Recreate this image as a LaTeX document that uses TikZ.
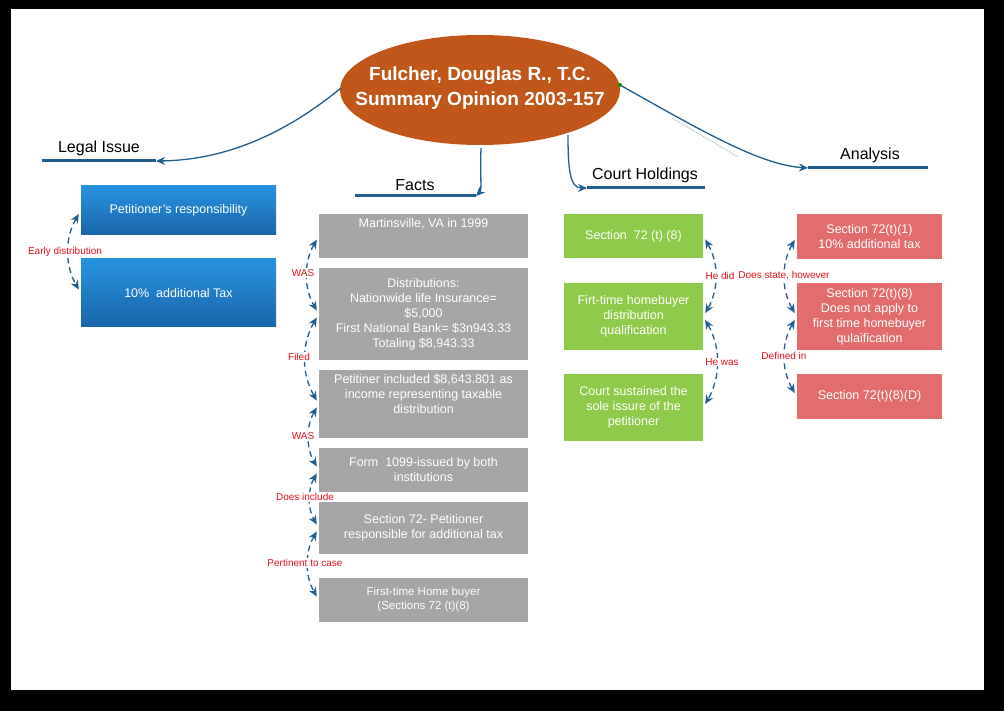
\documentclass[tikz,border=0pt]{standalone}
\usepackage{fontspec}
\setmainfont{Liberation Sans}
\usetikzlibrary{shapes.geometric,arrows.meta}
\definecolor{arr}{HTML}{1F5F8F}
\definecolor{orng}{HTML}{C0561A}
\definecolor{bluetop}{HTML}{2792DE}
\definecolor{bluebot}{HTML}{1A66AA}
\definecolor{gry}{HTML}{A6A6A6}
\definecolor{grn}{HTML}{8FCB4A}
\definecolor{rd}{HTML}{E36C6C}
\definecolor{lbl}{HTML}{E8101A}
\tikzset{
  box/.style={minimum width=#1, inner sep=2pt, text=white, align=center, font=\fontsize{12.5}{15}\selectfont},
  bluebox/.style={box=195pt, top color=bluetop, bottom color=bluebot, draw=none},
  graybox/.style={box=209pt, fill=gry},
  greenbox/.style={box=139pt, fill=grn},
  redbox/.style={box=145pt, fill=rd},
  hd/.style={font=\fontsize{16}{18}\selectfont, text=black},
  hline/.style={draw=arr, line width=3pt},
  marr/.style={draw=arr, line width=1.3pt, -{Stealth[length=9pt,width=8pt]}},
  dcon/.style={draw=arr, line width=1.3pt, dash pattern=on 6pt off 4pt, {Stealth[length=9pt,width=8pt]}-{Stealth[length=9pt,width=8pt]}, shorten <=4pt, shorten >=4pt},
  lab/.style={text=lbl, fill=white, inner sep=1pt, font=\fontsize{10}{11}\selectfont},
}
\begin{document}
\begin{tikzpicture}[x=1pt,y=-1pt]
\fill[black] (0,0) rectangle (1004,711);
\fill[white] (11,9) rectangle (984,690);
\useasboundingbox (0,0) rectangle (1004,711);

% central ellipse
\fill[orng] (480,90) ellipse [x radius=140, y radius=55];
\node[text=white, align=center, font=\bfseries\fontsize{19}{25}\selectfont] (c) at (480,88) {Fulcher, Douglas R., T.C.\\Summary Opinion 2003-157};

% headings
\node[hd] (hli) at (99,148) {Legal Issue};
\coordinate (li1) at (42,161); \coordinate (li2) at (156,161);
\draw[hline] (li1) -- (li2);
\node[hd] (hfa) at (415,185) {Facts};
\coordinate (fa1) at (355,196); \coordinate (fa2) at (476,196);
\draw[hline] (fa1) -- (fa2);
\node[hd] (hch) at (645,175) {Court Holdings};
\coordinate (ch1) at (587,188); \coordinate (ch2) at (705,188);
\draw[hline] (ch1) -- (ch2);
\node[hd] (han) at (870,155) {Analysis};
\coordinate (an1) at (808,168); \coordinate (an2) at (928,168);
\draw[hline] (an1) -- (an2);

% main arrows
\coordinate (cl) at (341,88);
\coordinate (cb1) at (481,148);
\coordinate (cb2) at (568,135);
\coordinate (cr) at (620,85);
\draw[marr] (cl) .. controls (290,130) and (230,160) .. (li2);
\draw[marr] (cb1) .. controls (480,175) and (482,190) .. (fa2);
\draw[marr] (cb2) .. controls (568,170) and (570,188) .. (ch1);
\draw[marr] (cr) .. controls (700,130) and (760,165) .. (an1);
\draw[densely dotted, line width=1pt, color=arr!40] (672,118) -- (738,157);
\fill[green!60!black] (cr) circle (2pt);

% legal issue boxes
\node[bluebox, minimum height=49pt] (b1) at (178.5,210.5) {Petitioner's responsibility};
\node[bluebox, minimum height=68pt] (b2) at (178.5,293) {10\%\ \ additional Tax};
\draw[dcon] (b1.west) to[bend right=30] (b2.west);
\node[lab] at (65,252) {Early distribution};

% facts boxes
\node[graybox, minimum height=44pt, anchor=north, text depth=26pt] (f1) at (423.5,214) {Martinsville, VA in 1999};
\node[graybox, minimum height=92pt] (f2) at (423.5,314) {Distributions:\\Nationwide life Insurance=\\\$5,000\\First National Bank= \$3n943.33\\Totaling \$8,943.33};
\node[graybox, minimum height=68pt] (f3) at (423.5,404) {Petitiner included \$8,643.801 as\\income representing taxable\\distribution\\[6pt]};
\node[graybox, minimum height=44pt] (f4) at (423.5,470) {Form\ \ 1099-issued by both\\institutions};
\node[graybox, minimum height=52pt] (f5) at (423.5,528) {Section 72- Petitioner\\responsible for additional tax};
\node[graybox, minimum height=44pt, font=\fontsize{11.5}{14}\selectfont] (f6) at (423.5,600) {First-time Home buyer\\(Sections 72 (t)(8)};
\draw[dcon] (f1.west) to[bend right=30] (f2.west);
\draw[dcon] (f2.west) to[bend right=30] (f3.west);
\draw[dcon] (f3.west) to[bend right=30] (f4.west);
\draw[dcon] (f4.west) to[bend right=30] (f5.west);
\draw[dcon] (f5.west) to[bend right=30] (f6.west);
\node[lab] at (303,273) {WAS};
\node[lab] at (299,357) {Filed};
\node[lab] at (303,436) {WAS};
\node[lab] at (305,497) {Does include};
\node[lab] at (305,563) {Pertinent to case};

% court holdings
\node[greenbox, minimum height=44pt] (g1) at (633.5,236) {Section\ \ 72 (t) (8)};
\node[greenbox, minimum height=67pt] (g2) at (633.5,316.5) {Firt-time homebuyer\\distribution\\qualification};
\node[greenbox, minimum height=67pt] (g3) at (633.5,407.5) {Court sustained the\\sole issure of the\\petitioner};
\draw[dcon] (g1.east) to[bend left=30] (g2.east);
\draw[dcon] (g2.east) to[bend left=30] (g3.east);
\node[lab] at (720,276) {He did};
\node[lab] at (722,362) {He was};

% analysis
\node[redbox, minimum height=45pt] (r1) at (869.5,236.5) {Section 72(t)(1)\\10\% additional tax};
\node[redbox, minimum height=67pt] (r2) at (869.5,316.5) {Section 72(t)(8)\\Does not apply to\\first time homebuyer\\qulaification};
\node[redbox, minimum height=45pt] (r3) at (869.5,396.5) {Section 72(t)(8)(D)};
\draw[dcon] (r1.west) to[bend right=30] (r2.west);
\draw[dcon] (r2.west) to[bend right=30] (r3.west);
\node[lab] at (784,276) {Does state, however};
\node[lab] at (784,356) {Defined in};
\end{tikzpicture}
\end{document}
